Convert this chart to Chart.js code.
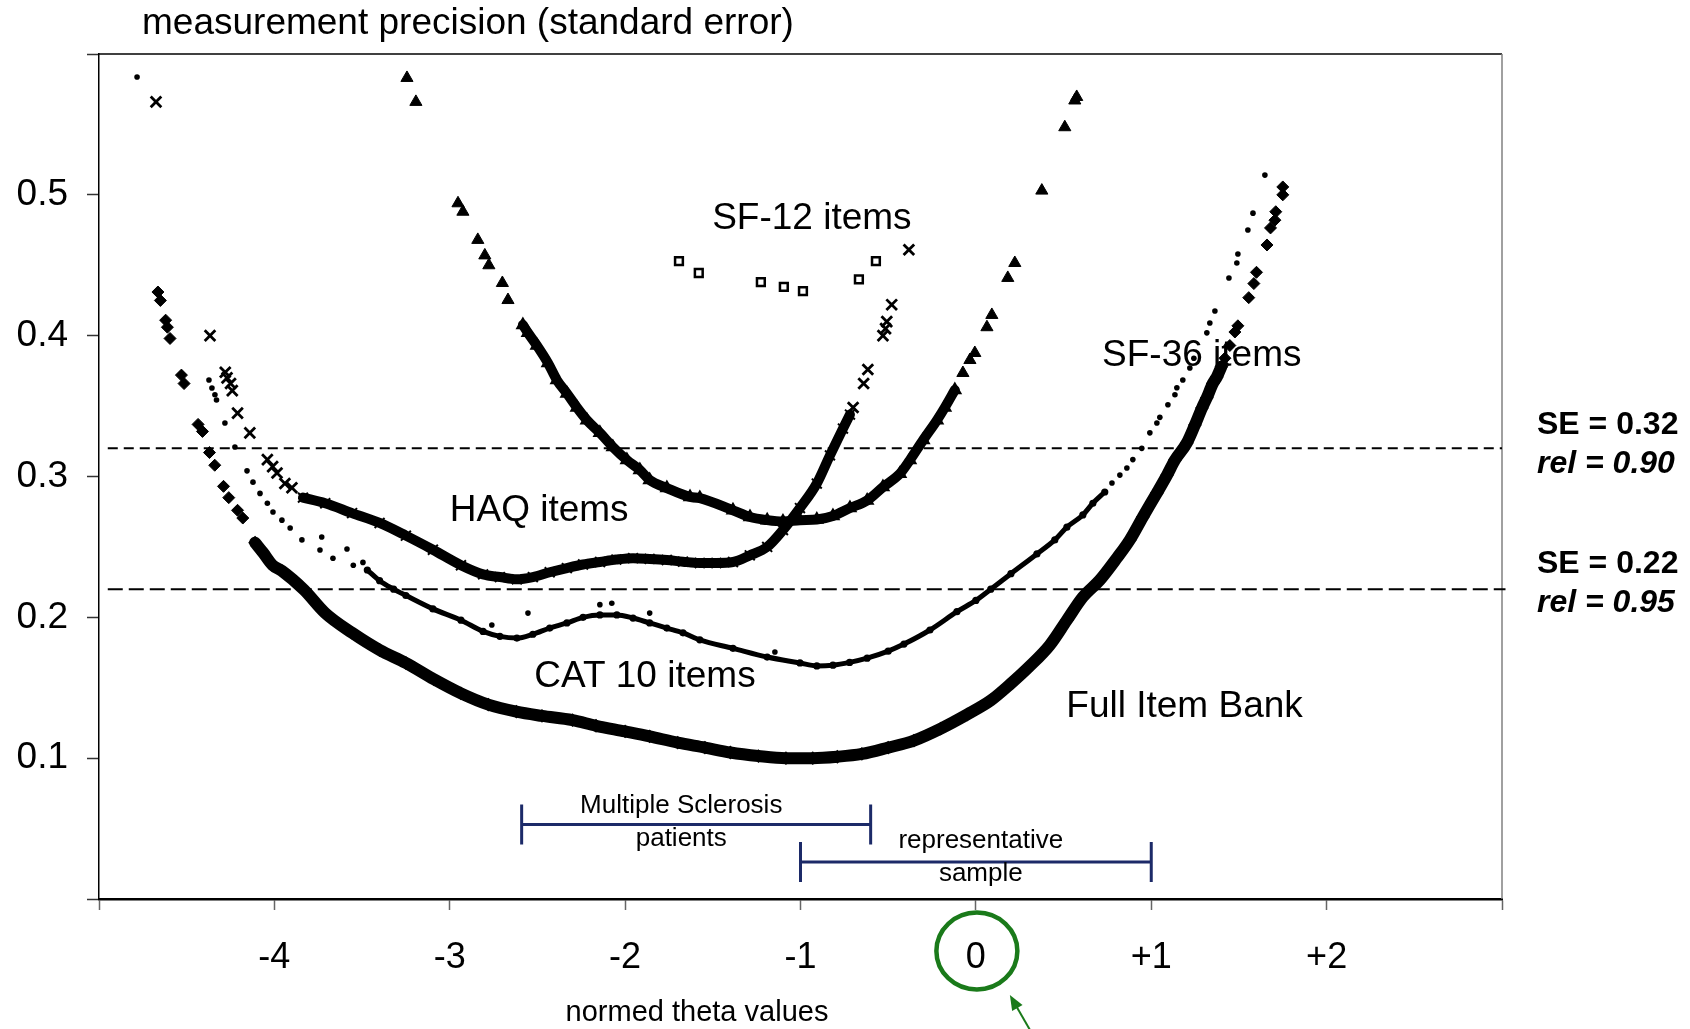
<!DOCTYPE html>
<html>
<head>
<meta charset="utf-8">
<script src="https://cdn.jsdelivr.net/npm/chart.js@4.4.1/dist/chart.umd.min.js"></script>
<style>
  html, body { margin: 0; padding: 0; background: #fff; }
  #wrap { width: 1690px; height: 1029px; }
</style>
</head>
<body>
<div id="wrap"><canvas id="c" width="1690" height="1029"></canvas></div>
<script>
// ---------------- DATA ----------------
// Full Item Bank: dense band + separate diamonds
const fibBandX = [-4.11, -4.065, -4.01, -3.957, -3.83, -3.71, -3.557, -3.40, -3.25, -3.09, -2.936, -2.78, -2.62, -2.474, -2.3, -2.166, -2.0, -1.86, -1.7, -1.545, -1.4, -1.24, -1.083, -0.93, -0.79, -0.65, -0.5, -0.353, -0.2, -0.05, 0.085, 0.2, 0.302, 0.42, 0.519, 0.61, 0.707, 0.804, 0.878, 0.952, 1.032, 1.09, 1.135, 1.203, 1.249, 1.289, 1.317, 1.351, 1.374, 1.40];
const fibBandY = [0.253, 0.246, 0.237, 0.233, 0.2194, 0.203, 0.189, 0.1768, 0.1676, 0.156, 0.146, 0.138, 0.133, 0.130, 0.127, 0.123, 0.119, 0.1155, 0.111, 0.1075, 0.104, 0.1015, 0.100, 0.100, 0.101, 0.103, 0.1075, 0.1125, 0.121, 0.131, 0.141, 0.153, 0.1647, 0.180, 0.198, 0.2144, 0.2265, 0.2421, 0.255, 0.2713, 0.2883, 0.301, 0.3117, 0.3238, 0.3366, 0.3486, 0.356, 0.366, 0.3707, 0.378];
const fibDotX = [-4.664, -4.65, -4.62, -4.61, -4.595, -4.53, -4.515, -4.435, -4.41, -4.37, -4.34, -4.29, -4.26, -4.21, -4.18, 1.42, 1.448, 1.477, 1.494, 1.556, 1.585, 1.60, 1.66, 1.68, 1.705, 1.71, 1.75, 1.75];
const fibDotY = [0.431, 0.425, 0.411, 0.406, 0.398, 0.372, 0.366, 0.337, 0.332, 0.317, 0.308, 0.293, 0.285, 0.276, 0.2705, 0.384, 0.393, 0.4026, 0.407, 0.427, 0.437, 0.445, 0.4644, 0.4765, 0.482, 0.488, 0.500, 0.5056];

// CAT 10 items: dense band + single dots
const catBandX = [-3.47, -3.40, -3.32, -3.25, -3.096, -2.936, -2.81, -2.714, -2.617, -2.526, -2.43, -2.332, -2.24, -2.144, -2.047, -1.955, -1.86, -1.762, -1.67, -1.574, -1.385, -1.19, -1.003, -0.907, -0.815, -0.72, -0.62, -0.5, -0.41, -0.262, -0.108, 0.0, 0.085, 0.2, 0.348, 0.45, 0.519, 0.61, 0.667, 0.735];
const catBandY = [0.2336, 0.226, 0.220, 0.2155, 0.206, 0.198, 0.190, 0.1865, 0.1853, 0.188, 0.1924, 0.196, 0.200, 0.2017, 0.2017, 0.1995, 0.196, 0.1924, 0.189, 0.184, 0.178, 0.1718, 0.1676, 0.1655, 0.166, 0.168, 0.171, 0.176, 0.181, 0.191, 0.204, 0.212, 0.220, 0.231, 0.245, 0.255, 0.264, 0.2727, 0.281, 0.289];
const catDotX = [-4.783, -4.373, -4.356, -4.339, -4.33, -4.282, -4.225, -4.156, -4.122, -4.082, -4.04, -4.008, -3.957, -3.91, -3.843, -3.73, -3.74, -3.666, -3.586, -3.55, -3.495, -2.76, -2.554, -2.144, -2.076, -1.86, -1.146, 0.776, 0.821, 0.861, 0.895, 0.946, 0.992, 1.032, 1.049, 1.095, 1.135, 1.146, 1.18, 1.22, 1.243, 1.317, 1.334, 1.363, 1.443, 1.488, 1.494, 1.551, 1.58, 1.648];
const catDotY = [0.5837, 0.3685, 0.3628, 0.358, 0.3543, 0.338, 0.321, 0.304, 0.296, 0.288, 0.281, 0.2748, 0.269, 0.2634, 0.255, 0.257, 0.2478, 0.242, 0.2485, 0.237, 0.239, 0.1946, 0.203, 0.209, 0.210, 0.203, 0.1754, 0.2954, 0.301, 0.306, 0.312, 0.320, 0.331, 0.338, 0.342, 0.351, 0.358, 0.363, 0.3685, 0.377, 0.384, 0.402, 0.409, 0.4175, 0.441, 0.4516, 0.458, 0.475, 0.487, 0.514];

// HAQ items: dense band + single crosses
const haqBandX = [-3.837, -3.71, -3.557, -3.40, -3.25, -3.096, -2.936, -2.81, -2.714, -2.617, -2.526, -2.43, -2.332, -2.24, -2.143, -2.05, -1.955, -1.86, -1.762, -1.67, -1.574, -1.48, -1.385, -1.289, -1.19, -1.10, -1.003, -0.907, -0.832, -0.758, -0.718];
const haqBandY = [0.285, 0.281, 0.274, 0.267, 0.258, 0.248, 0.237, 0.2305, 0.2286, 0.227, 0.2286, 0.232, 0.235, 0.2375, 0.2393, 0.241, 0.242, 0.2415, 0.2407, 0.2395, 0.2386, 0.2386, 0.2393, 0.244, 0.250, 0.262, 0.2776, 0.295, 0.315, 0.334, 0.344];
const haqDotX = [-4.675, -4.367, -4.28, -4.27, -4.25, -4.24, -4.21, -4.14, -4.04, -4.01, -3.985, -3.94, -3.90, -0.70, -0.64, -0.616, -0.53, -0.515, -0.508, -0.48, -0.382];
const haqDotY = [0.566, 0.400, 0.374, 0.370, 0.366, 0.361, 0.345, 0.331, 0.312, 0.307, 0.3025, 0.295, 0.292, 0.349, 0.366, 0.376, 0.400, 0.405, 0.410, 0.422, 0.461];

// SF-36 items: dense band + single triangles
const sf36BandX = [-2.583, -2.554, -2.503, -2.44, -2.389, -2.332, -2.275, -2.218, -2.144, -2.07, -1.99, -1.916, -1.86, -1.762, -1.63, -1.574, -1.385, -1.288, -1.19, -1.10, -1.003, -0.907, -0.815, -0.718, -0.62, -0.53, -0.433, -0.376, -0.30, -0.222, -0.177, -0.12];
const sf36BandY = [0.4076, 0.402, 0.393, 0.3806, 0.3685, 0.359, 0.349, 0.340, 0.331, 0.321, 0.3117, 0.3046, 0.2975, 0.2918, 0.2855, 0.2847, 0.276, 0.2712, 0.269, 0.268, 0.269, 0.2695, 0.272, 0.2776, 0.283, 0.2925, 0.302, 0.3117, 0.326, 0.340, 0.349, 0.3614];
const sf36DotX = [-3.244, -3.193, -2.953, -2.925, -2.84, -2.80, -2.777, -2.70, -2.668, -0.074, -0.034, -0.006, 0.063, 0.091, 0.182, 0.222, 0.376, 0.507, 0.564, 0.575];
const sf36DotY = [0.583, 0.566, 0.494, 0.488, 0.468, 0.457, 0.450, 0.4374, 0.4253, 0.3735, 0.3827, 0.3877, 0.406, 0.4147, 0.441, 0.4516, 0.503, 0.548, 0.567, 0.5695];

// SF-12 items: open squares
const sf12X = [-1.693, -1.58, -1.226, -1.095, -0.986, -0.667, -0.57];
const sf12Y = [0.453, 0.4445, 0.438, 0.4346, 0.4317, 0.440, 0.453];

// Axis tick labels
const xTickValues = [-5, -4, -3, -2, -1, 0, 1, 2, 3];
const xTickLabels = ['', '-4', '-3', '-2', '-1', '0', '+1', '+2', ''];
const yTickValues = [0, 0.1, 0.2, 0.3, 0.4, 0.5, 0.6];
const yTickLabels = ['', '0.1', '0.2', '0.3', '0.4', '0.5', ''];

// Reference lines (standard error thresholds)
const refSE = [0.32, 0.22];
const refLabelSE = ['SE = 0.32', 'SE = 0.22'];
const refLabelRel = ['rel = 0.90', 'rel = 0.95'];

// In-plot curve labels
const noteLabels = ['SF-12 items', 'SF-36 items', 'HAQ items', 'CAT 10 items', 'Full Item Bank'];
const noteX = [-0.935, 1.288, -2.49, -1.887, 1.19];
const noteY = [0.483, 0.386, 0.276, 0.1575, 0.1367];

// Sample ranges
const rangeFrom = [-2.59, -1.0];
const rangeTo = [-0.6, 1.0];
const rangeLevel = [0.0529, 0.0262];
const rangeTextTop = ['Multiple Sclerosis', 'representative'];
const rangeTextBottom = ['patients', 'sample'];
const rangeTextX = [-1.68, 0.028];
const rangeTextTopY = [0.0662, 0.041];
const rangeTextBottomY = [0.0425, 0.0182];

// ---------------- CHART ----------------
const FONT = "'Liberation Sans', Arial, Helvetica, sans-serif";
const zip = (xs, ys) => xs.map((x, i) => ({ x: x, y: ys[i] }));

function band(xs, ys, width, style, radius) {
  return {
    data: zip(xs, ys), showLine: true, borderColor: '#000', backgroundColor: '#000',
    borderWidth: width, cubicInterpolationMode: 'monotone',
    borderCapStyle: 'round', borderJoinStyle: 'round',
    pointStyle: style, pointRadius: radius, pointBorderWidth: 2,
    pointBackgroundColor: '#000', pointBorderColor: '#000'
  };
}
function dots(xs, ys, style, radius, fill, bw) {
  return {
    data: zip(xs, ys), showLine: false, pointStyle: style, pointRadius: radius,
    pointBackgroundColor: fill, pointBorderColor: '#000', pointBorderWidth: bw,
    borderColor: '#000', backgroundColor: fill
  };
}

const overlay = {
  id: 'overlay',
  beforeDatasetsDraw(chart) {
    const { ctx, chartArea: a, scales: { x, y } } = chart;
    ctx.save();
    // top + right frame
    ctx.lineWidth = 1.5;
    ctx.strokeStyle = '#000';
    ctx.beginPath(); ctx.moveTo(a.left, a.top); ctx.lineTo(a.right, a.top); ctx.stroke();
    ctx.strokeStyle = '#808080';
    ctx.beginPath(); ctx.moveTo(a.right, a.top); ctx.lineTo(a.right, a.bottom); ctx.stroke();
    // dashed reference lines
    const dashes = [[10, 6], [15, 6]];
    const ends = [3.0, 3.02];
    refSE.forEach((v, i) => {
      ctx.setLineDash(dashes[i]);
      ctx.lineWidth = 2;
      ctx.strokeStyle = '#000';
      ctx.beginPath();
      ctx.moveTo(x.getPixelForValue(-4.95), y.getPixelForValue(v));
      ctx.lineTo(x.getPixelForValue(ends[i]), y.getPixelForValue(v));
      ctx.stroke();
    });
    ctx.setLineDash([]);
    // curve labels (drawn under the marks)
    ctx.fillStyle = '#000';
    ctx.textAlign = 'center';
    ctx.textBaseline = 'middle';
    ctx.font = '37px ' + FONT;
    noteLabels.forEach((s, i) => ctx.fillText(s, x.getPixelForValue(noteX[i]), y.getPixelForValue(noteY[i])));
    // range bars
    ctx.strokeStyle = '#1c2a68';
    ctx.lineWidth = 3;
    rangeFrom.forEach((f, i) => {
      const py = y.getPixelForValue(rangeLevel[i]);
      const x1 = x.getPixelForValue(f), x2 = x.getPixelForValue(rangeTo[i]);
      ctx.beginPath();
      ctx.moveTo(x1, py); ctx.lineTo(x2, py);
      ctx.moveTo(x1, py - 20); ctx.lineTo(x1, py + 20);
      ctx.moveTo(x2, py - 20); ctx.lineTo(x2, py + 20);
      ctx.stroke();
    });
    ctx.font = '26px ' + FONT;
    ctx.fillStyle = '#000';
    rangeTextTop.forEach((s, i) => {
      const px = x.getPixelForValue(rangeTextX[i]);
      ctx.fillText(s, px, y.getPixelForValue(rangeTextTopY[i]));
      ctx.fillText(rangeTextBottom[i], px, y.getPixelForValue(rangeTextBottomY[i]));
    });
    ctx.restore();
  },
  afterDraw(chart) {
    const { ctx, chartArea: a, scales: { x, y } } = chart;
    ctx.save();
    ctx.fillStyle = '#000';
    ctx.textBaseline = 'middle';
    // title
    ctx.textAlign = 'left';
    ctx.font = '37px ' + FONT;
    ctx.fillText('measurement precision (standard error)', 142, 24);
    // x axis name
    ctx.textAlign = 'center';
    ctx.font = '29px ' + FONT;
    ctx.fillText('normed theta values', 697, 1013);
    // SE labels on the right
    ctx.textAlign = 'left';
    const seOff = [[-23, 16], [-25, 14]];
    refSE.forEach((v, i) => {
      const py = y.getPixelForValue(v);
      ctx.font = 'bold 32px ' + FONT;
      ctx.fillText(refLabelSE[i], a.right + 35, py + seOff[i][0]);
      ctx.font = 'italic bold 32px ' + FONT;
      ctx.fillText(refLabelRel[i], a.right + 35, py + seOff[i][1]);
    });
    // green circle around the 0 tick label + arrow
    const cx = x.getPixelForValue(0) + 1, cy = 951;
    ctx.strokeStyle = '#1a7a1a';
    ctx.fillStyle = '#1a7a1a';
    ctx.lineWidth = 4.5;
    ctx.beginPath();
    ctx.ellipse(cx, cy, 40.5, 38.5, 0, 0, Math.PI * 2);
    ctx.stroke();
    const tx = cx + 33, ty = 995, fx = cx + 56, fy = 1035;
    ctx.lineWidth = 2;
    ctx.beginPath(); ctx.moveTo(fx, fy); ctx.lineTo(tx + 4, ty + 7); ctx.stroke();
    const ang = Math.atan2(ty - fy, tx - fx);
    ctx.beginPath();
    ctx.moveTo(tx, ty);
    ctx.lineTo(tx - 15 * Math.cos(ang) + 6 * Math.sin(ang), ty - 15 * Math.sin(ang) - 6 * Math.cos(ang));
    ctx.lineTo(tx - 15 * Math.cos(ang) - 6 * Math.sin(ang), ty - 15 * Math.sin(ang) + 6 * Math.cos(ang));
    ctx.closePath();
    ctx.fill();
    ctx.restore();
  }
};

new Chart(document.getElementById('c'), {
  type: 'scatter',
  data: {
    datasets: [
      band(fibBandX, fibBandY, 12, 'rectRot', 5.5),
      dots(fibDotX, fibDotY, 'rectRot', 6, '#000', 1),
      band(catBandX, catBandY, 5, 'circle', 2.6),
      dots(catDotX, catDotY, 'circle', 2.8, '#000', 0),
      band(haqBandX, haqBandY, 10, 'crossRot', 7),
      dots(haqDotX, haqDotY, 'crossRot', 7.5, '#000', 2.8),
      band(sf36BandX, sf36BandY, 10, 'triangle', 6.5),
      dots(sf36DotX, sf36DotY, 'triangle', 7, '#000', 1),
      dots(sf12X, sf12Y, 'rect', 5.5, '#fff', 2.5)
    ]
  },
  options: {
    responsive: false,
    animation: false,
    devicePixelRatio: 1,
    layout: { padding: { top: 54, right: 188, left: 0, bottom: 0 } },
    plugins: { legend: { display: false }, tooltip: { enabled: false }, title: { display: false } },
    scales: {
      x: {
        type: 'linear', min: -5, max: 3,
        afterFit(s) { s.height = 130; },
        afterBuildTicks(s) { s.ticks = xTickValues.map(v => ({ value: v })); },
        grid: { drawOnChartArea: false, drawTicks: true, tickLength: 11, tickColor: '#666', tickWidth: 1.5 },
        border: { display: true, color: '#000', width: 2.5 },
        ticks: {
          autoSkip: false, maxRotation: 0, padding: 26, color: '#000',
          font: { family: FONT, size: 36 },
          callback: (v) => { const i = xTickValues.indexOf(Math.round(v)); return i >= 0 ? xTickLabels[i] : ''; }
        }
      },
      y: {
        type: 'linear', min: 0, max: 0.6,
        afterFit(s) { s.width = 99; },
        afterBuildTicks(s) { s.ticks = yTickValues.map(v => ({ value: v })); },
        grid: { drawOnChartArea: false, drawTicks: true, tickLength: 12, tickColor: '#333', tickWidth: 1.5 },
        border: { display: true, color: '#000', width: 1.5 },
        ticks: {
          padding: 19, color: '#000',
          font: { family: FONT, size: 37 },
          callback: (v) => { const i = yTickValues.findIndex(t => Math.abs(t - v) < 1e-6); return i >= 0 ? yTickLabels[i] : ''; }
        }
      }
    }
  },
  plugins: [overlay]
});
</script>
</body>
</html>
